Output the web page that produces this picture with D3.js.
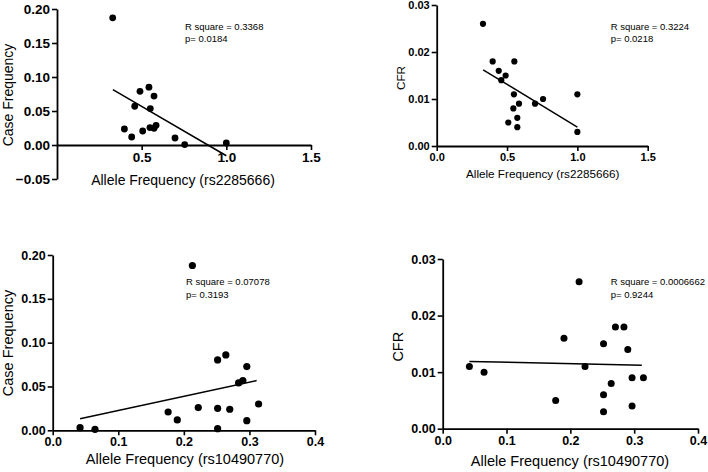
<!DOCTYPE html>
<html><head><meta charset="utf-8">
<script src="https://cdn.jsdelivr.net/npm/d3@7"></script>
<style>
html,body{margin:0;padding:0;background:#fff;}
svg{display:block;}
text{font-family:"Liberation Sans",Arial,Helvetica,sans-serif;fill:#000;}
</style>
</head><body>
<svg id="chart" width="708" height="472"></svg>
<script>
// ---- Data ----
// Panel A: Case Frequency vs Allele Frequency (rs2285666)
const aX = [0.329,0.49,0.543,0.573,0.459,0.551,0.398,0.441,0.506,0.549,0.573,0.585,0.697,0.754,1.0];
const aY = [0.187,0.079,0.085,0.072,0.057,0.0535,0.0235,0.0118,0.0206,0.0256,0.0246,0.029,0.0103,0.0006,0.003];
const aFitX = [0.33,1.0];
const aFitY = [0.0815,-0.0158];
// Panel B: CFR vs Allele Frequency (rs2285666)
const bX = [0.329,0.398,0.552,0.441,0.49,0.459,0.549,1.0,0.756,0.699,0.585,0.545,0.573,0.509,0.573,1.0];
const bY = [0.026,0.018,0.018,0.016,0.015,0.014,0.011,0.011,0.010,0.009,0.009,0.008,0.006,0.005,0.004,0.003];
const bFitX = [0.33,1.0];
const bFitY = [0.0162,0.0040];
// Panel C: Case Frequency vs Allele Frequency (rs10490770)
const cX = [0.0417,0.0645,0.176,0.190,0.213,0.222,0.2515,0.2515,0.2515,0.264,0.270,0.2835,0.290,0.296,0.296,0.314];
const cY = [0.003,0.0011,0.0209,0.0118,0.188,0.0259,0.0803,0.0251,0.0019,0.086,0.024,0.054,0.0567,0.0727,0.011,0.030];
const cFitX = [0.0417,0.311];
const cFitY = [0.0133,0.0567];
// Panel D: CFR vs Allele Frequency (rs10490770)
const dX = [0.0418,0.0648,0.177,0.190,0.2137,0.223,0.252,0.252,0.252,0.264,0.2706,0.284,0.290,0.2967,0.2967,0.3145];
const dY = [0.011,0.010,0.005,0.016,0.026,0.011,0.015,0.006,0.003,0.008,0.018,0.018,0.014,0.009,0.004,0.009];
const dFitX = [0.0418,0.312];
const dFitY = [0.0119,0.0112];

// Axis labels / ticks / annotations
const xTitle1 = "Allele Frequency (rs2285666)";
const xTitle2 = "Allele Frequency (rs10490770)";
const yTitleCase = "Case Frequency";
const yTitleCFR = "CFR";
const aXTicks = [0.5,1.0,1.5];
const aYTicks = [-0.05,0,0.05,0.10,0.15,0.20];
const bXTicks = [0,0.5,1.0,1.5];
const bYTicks = [0,0.01,0.02,0.03];
const cXTicks = [0,0.1,0.2,0.3,0.4];
const cYTicks = [0,0.05,0.10,0.15,0.20];
const dXTicks = [0,0.1,0.2,0.3,0.4];
const dYTicks = [0,0.01,0.02,0.03];
const aNote = ["R square = 0.3368","p= 0.0184"];
const bNote = ["R square = 0.3224","p= 0.0218"];
const cNote = ["R square = 0.07078","p= 0.3193"];
const dNote = ["R square = 0.0006662","p= 0.9244"];

const svg = d3.select("#chart");

function panel(cfg){
  const g = svg.append("g");
  const x = d3.scaleLinear().domain(cfg.xDom).range(cfg.xRange);
  const y = d3.scaleLinear().domain(cfg.yDom).range(cfg.yRange);
  const tickFont = cfg.tickFs + "px";

  // x axis at y=0
  const xa = g.append("g").attr("transform", `translate(0,${y(0)})`)
    .call(d3.axisBottom(x).tickValues(cfg.xTicks).tickFormat(d3.format(".1f")).tickSize(5).tickPadding(2).tickSizeOuter(0));
  xa.select(".domain").attr("stroke","#000").attr("stroke-width",1.8);
  xa.selectAll(".tick line").attr("stroke","#000").attr("stroke-width",1.6);
  xa.selectAll(".tick text").attr("font-size",tickFont).attr("font-weight","bold")
    .attr("font-family","'Liberation Sans',Arial,sans-serif").attr("fill","#000");

  const ya = g.append("g").attr("transform", `translate(${x(0)},0)`)
    .call(d3.axisLeft(y).tickValues(cfg.yTicks).tickFormat(d3.format(".2f")).tickSize(5).tickPadding(2).tickSizeOuter(0));
  ya.select(".domain").attr("stroke","#000").attr("stroke-width",1.8);
  ya.selectAll(".tick line").attr("stroke","#000").attr("stroke-width",1.6);
  ya.selectAll(".tick text").attr("font-size",tickFont).attr("font-weight","bold")
    .attr("font-family","'Liberation Sans',Arial,sans-serif").attr("fill","#000");

  // fit line
  const line = d3.line().x(d=>x(d[0])).y(d=>y(d[1]));
  g.append("path").datum(d3.zip(cfg.fitX,cfg.fitY)).attr("d",line)
    .attr("stroke","#000").attr("stroke-width",1.5).attr("fill","none");

  // points
  g.selectAll("circle.pt").data(d3.zip(cfg.px,cfg.py)).join("circle")
    .attr("class","pt").attr("cx",d=>x(d[0])).attr("cy",d=>y(d[1])).attr("r",cfg.r).attr("fill","#000");

  // titles
  g.append("text").attr("x",cfg.xTitlePos[0]).attr("y",cfg.xTitlePos[1])
    .attr("text-anchor","middle").attr("dominant-baseline","central")
    .attr("font-size",cfg.titleFs+"px").text(cfg.xTitle);
  g.append("text").attr("transform",`translate(${cfg.yTitlePos[0]},${cfg.yTitlePos[1]}) rotate(-90)`)
    .attr("text-anchor","middle").attr("dominant-baseline","central")
    .attr("font-size",cfg.titleFs+"px").text(cfg.yTitle);

  // annotation
  cfg.note.forEach((t,i)=>{
    g.append("text").attr("x",cfg.notePos[0]).attr("y",cfg.notePos[1]+i*12.5)
      .attr("dominant-baseline","central").attr("font-size","9.5px").text(t);
  });
}

panel({xDom:[0,1.5],xRange:[57,311],yDom:[-0.05,0.20],yRange:[179,9],
  xTicks:aXTicks,yTicks:aYTicks,px:aX,py:aY,fitX:aFitX,fitY:aFitY,r:3.4,
  tickFs:13.5,titleFs:14,xTitle:xTitle1,yTitle:yTitleCase,
  xTitlePos:[183,180],yTitlePos:[8,95],note:aNote,notePos:[185,26]});

panel({xDom:[0,1.5],xRange:[436.7,647.7],yDom:[0,0.03],yRange:[146,5],
  xTicks:bXTicks,yTicks:bYTicks,px:bX,py:bY,fitX:bFitX,fitY:bFitY,r:3.1,
  tickFs:11,titleFs:11.7,xTitle:xTitle1,yTitle:yTitleCFR,
  xTitlePos:[542.7,173],yTitlePos:[400,78],note:bNote,notePos:[610.7,26]});

panel({xDom:[0,0.4],xRange:[52.7,315],yDom:[0,0.20],yRange:[430.3,255],
  xTicks:cXTicks,yTicks:cYTicks,px:cX,py:cY,fitX:cFitX,fitY:cFitY,r:3.6,
  tickFs:12.5,titleFs:14.5,xTitle:xTitle2,yTitle:yTitleCase,
  xTitlePos:[185,459],yTitlePos:[8,343],note:cNote,notePos:[186,281.7]});

panel({xDom:[0,0.4],xRange:[442.7,698],yDom:[0,0.03],yRange:[428.7,259],
  xTicks:dXTicks,yTicks:dYTicks,px:dX,py:dY,fitX:dFitX,fitY:dFitY,r:3.5,
  tickFs:12.5,titleFs:14.5,xTitle:xTitle2,yTitle:yTitleCFR,
  xTitlePos:[570,461],yTitlePos:[398.3,346.7],note:dNote,notePos:[610.7,281.7]});
</script>
</body></html>
